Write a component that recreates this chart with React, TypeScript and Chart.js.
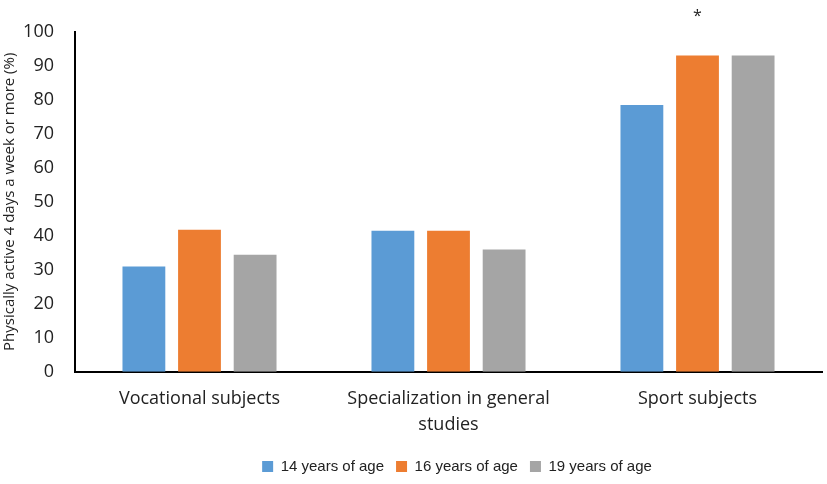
import { useEffect, useRef } from "react";
import Chart from "chart.js/auto";

const categories = [["Vocational subjects"], ["Specialization in general", "studies"], ["Sport subjects"]];
const seriesLabels = ["14 years of age", "16 years of age", "19 years of age"];
const age14 = [31, 41.5, 78.5];
const age16 = [41.8, 41.5, 93];
const age19 = [34.4, 36, 93];
const colors = ["#5B9BD5", "#ED7D31", "#A5A5A5"];
// significance marker: [datasetIndex, categoryIndex, text]
const markers: [number, number, string][] = [[1, 2, "*"]];

const markerPlugin = {
  id: "markers",
  afterLayout(chart: any) {
    // legend sits a bit right of centre in the original
    if (chart.legend) {
      chart.legend.left += 46;
      chart.legend.right += 46;
    }
  },
  afterDatasetsDraw(chart: any) {
    const ctx = chart.ctx;
    ctx.save();
    ctx.fillStyle = "#222";
    ctx.font = "16px 'Open Sans'";
    ctx.textAlign = "center";
    ctx.textBaseline = "bottom";
    markers.forEach(([ds, i, t]) => {
      const el = chart.getDatasetMeta(ds).data[i];
      ctx.fillText(t, el.x, el.y - 31);
    });
    ctx.restore();
  },
};

export default function App() {
  const ref = useRef<HTMLCanvasElement>(null);

  useEffect(() => {
    document.body.style.margin = "0";
    if (!ref.current) return;
    const ctx = ref.current.getContext("2d");
    if (!ctx) return;

    const chart = new Chart(ctx, {
      type: "bar",
      data: {
        labels: categories,
        datasets: [age14, age16, age19].map((d, k) => ({
          label: seriesLabels[k],
          data: d,
          backgroundColor: colors[k],
          categoryPercentage: 0.67,
          barPercentage: 0.77,
        })),
      },
      plugins: [markerPlugin],
      options: {
        animation: false,
        responsive: true,
        maintainAspectRatio: false,
        layout: { padding: { top: 4, right: 5, left: 0, bottom: 0 } },
        plugins: {
          tooltip: { enabled: false },
          legend: {
            position: "bottom",
            labels: {
              boxWidth: 11,
              boxHeight: 11,
              padding: 12,
              color: "#222",
              font: { family: "'Liberation Sans'", size: 15 },
            },
          },
        },
        scales: {
          x: {
            grid: { display: false, drawTicks: false },
            border: { color: "#000", width: 2 },
            ticks: { color: "#222", padding: 14, font: { family: "'Open Sans'", size: 18, lineHeight: 1.45 } },
            afterFit(scale: any) {
              scale.height -= 5;
            },
          },
          y: {
            min: 0,
            max: 100,
            grid: { display: false, drawTicks: false },
            border: { color: "#000", width: 2 },
            ticks: { stepSize: 10, color: "#222", padding: 21, font: { family: "'Open Sans'", size: 18 } },
            title: {
              display: true,
              text: "Physically active 4 days a week or more (%)",
              color: "#222",
              padding: { top: 1, bottom: 0 },
              font: { family: "'Open Sans'", size: 15 },
            },
            afterFit(scale: any) {
              scale.width = 75;
            },
          },
        },
      },
    });

    return () => chart.destroy();
  }, []);

  return (
    <div style={{ width: "827px", height: "484px", background: "#fff" }}>
      <canvas ref={ref}></canvas>
    </div>
  );
}
